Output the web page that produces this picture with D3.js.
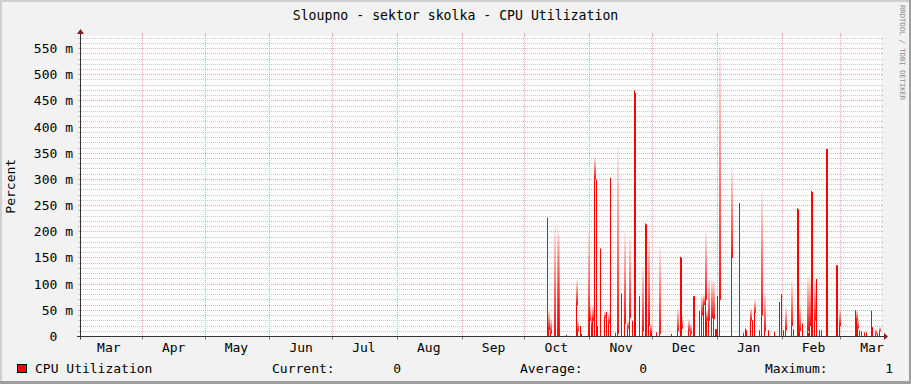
<!DOCTYPE html>
<html>
<head>
<meta charset="utf-8">
<script src="https://cdn.jsdelivr.net/npm/d3@7"></script>
<style>
html, body { margin: 0; padding: 0; background: #f2f2f2; }
svg { display: block; font-family: "DejaVu Sans Mono", monospace; }
text { white-space: pre; }
</style>
</head>
<body>
<div id="chart"></div>
<script>
(function(){
// chart texts
const chartTitle = "Sloupno - sektor skolka - CPU Utilization";
const yTitle = "Percent";
const seriesName = "CPU Utilization";
const watermark = "RRDTOOL / TOBI OETIKER";

// time range shown and month labels
const timeStart = "2014-03-02T16:20";
const timeEnd = "2015-03-20T06:45";
const monthLabels = ["Mar", "Apr", "May", "Jun", "Jul", "Aug", "Sep", "Oct", "Nov", "Dec", "Jan", "Feb", "Mar"];

// y ticks (milli percent)
const yTicks = [0, 50, 100, 150, 200, 250, 300, 350, 400, 450, 500, 550];
const yMax = 574;

// legend statistics
const statLabels = ["Current:", "Average:", "Maximum:"];
const statValues = ["0", "0", "1"];

// spikes: time, solid height and faded peak (milli percent)
const spikeDates = [
 "2014-10-11T18:00","2014-10-12T12:00","2014-10-13T00:00","2014-10-15T00:00","2014-10-16T12:00","2014-10-17T06:00",
 "2014-10-21T00:00","2014-10-25T12:00","2014-10-26T00:00","2014-10-27T12:00","2014-10-28T00:00","2014-10-31T12:00",
 "2014-11-01T00:00","2014-11-01T18:00","2014-11-02T12:00","2014-11-03T12:00","2014-11-04T06:00","2014-11-04T18:00",
 "2014-11-06T06:00","2014-11-08T06:00","2014-11-09T00:00","2014-11-09T18:00","2014-11-11T00:00","2014-11-13T12:00",
 "2014-11-14T12:00","2014-11-16T00:00","2014-11-17T18:00","2014-11-19T00:00","2014-11-20T00:00","2014-11-21T06:00",
 "2014-11-22T12:00","2014-11-23T00:00","2014-11-25T00:00","2014-11-26T00:00","2014-11-27T18:00","2014-11-28T06:00",
 "2014-11-29T00:00","2014-11-30T00:00","2014-11-30T18:00",
 "2014-12-03T00:00","2014-12-04T12:00","2014-12-10T06:00","2014-12-13T00:00","2014-12-14T06:00","2014-12-14T18:00",
 "2014-12-15T00:00","2014-12-18T06:00","2014-12-19T06:00","2014-12-20T18:00","2014-12-21T06:00","2014-12-23T06:00",
 "2014-12-24T12:00","2014-12-25T06:00","2014-12-26T06:00","2014-12-27T00:00","2014-12-28T00:00","2014-12-29T00:00",
 "2014-12-30T00:00","2014-12-31T00:00","2014-12-31T18:00",
 "2015-01-01T00:00","2015-01-02T06:00","2015-01-08T00:00","2015-01-11T18:00","2015-01-13T12:00","2015-01-14T06:00",
 "2015-01-15T00:00","2015-01-17T00:00","2015-01-18T00:00","2015-01-19T00:00","2015-01-21T00:00","2015-01-22T00:00",
 "2015-01-23T18:00","2015-01-25T12:00","2015-01-28T12:00","2015-01-30T12:00","2015-01-31T12:00",
 "2015-02-01T12:00","2015-02-02T18:00","2015-02-05T06:00","2015-02-06T12:00","2015-02-08T06:00","2015-02-08T18:00",
 "2015-02-09T06:00","2015-02-10T18:00","2015-02-13T00:00","2015-02-13T12:00","2015-02-14T06:00","2015-02-15T06:00",
 "2015-02-15T18:00","2015-02-16T12:00","2015-02-17T12:00","2015-02-19T00:00","2015-02-20T00:00","2015-02-22T06:00",
 "2015-02-22T18:00","2015-02-27T00:00","2015-02-27T12:00","2015-02-28T06:00",
 "2015-03-08T06:00","2015-03-08T18:00","2015-03-09T06:00","2015-03-10T00:00","2015-03-10T18:00","2015-03-12T12:00",
 "2015-03-13T06:00","2015-03-15T12:00","2015-03-16T06:00","2015-03-17T12:00","2015-03-18T18:00","2015-03-19T12:00"
];
const spikeSolid = [
 227, 12, 5, 0, 3, 0, 3, 60, 10, 20, 5, 10,
 30, 20, 30, 300, 300, 20, 168, 35, 47, 25, 303, 7, 5, 82, 24, 15, 35, 30, 470, 465, 77, 10, 216, 214, 20, 7, 7,
 8, 5, 5, 10, 152, 150, 15, 10, 5, 77, 77, 49, 40, 60, 70, 30, 30, 35, 33, 14, 14,
 77, 70, 150, 255, 7, 15, 12, 30, 31, 45, 12, 40, 10, 12, 9, 66, 81,
 12, 12, 20, 14, 245, 243, 10, 25, 10, 7, 20, 278, 276, 30, 110, 12, 12, 358, 358, 136, 136, 20,
 50, 30, 15, 12, 10, 8, 8, 49, 18, 5, 6, 10
];
const spikePeak = [
 227, 50, 35, 213, 210, 195, 3, 110, 30, 20, 5, 200,
 60, 40, 60, 343, 300, 20, 168, 47, 47, 45, 303, 7, 362, 82, 200, 30, 190, 30, 470, 465, 77, 133, 216, 214, 187, 25, 7,
 8, 171, 5, 54, 152, 150, 40, 34, 25, 77, 77, 49, 79, 80, 200, 50, 108, 108, 106, 14, 14,
 77, 555, 322, 255, 7, 15, 12, 55, 31, 71, 12, 280, 83, 12, 9, 66, 81,
 12, 55, 106, 14, 245, 243, 60, 25, 114, 7, 113, 278, 276, 108, 110, 12, 12, 358, 358, 136, 136, 52,
 50, 50, 35, 12, 10, 8, 8, 49, 18, 14, 6, 18
];

const width = 911, height = 384;
const plotLeft = 81, plotRight = 881, plotTop = 36, plotBottom = 336.5;
const parse = d3.timeParse("%Y-%m-%dT%H:%M");
const t0 = parse(timeStart), t1 = parse(timeEnd);

const x = d3.scaleTime().domain([t0, t1]).range([plotLeft, plotRight]);
const y = d3.scaleLinear().domain([0, yMax]).range([plotBottom, plotTop]);

const svg = d3.select("#chart").append("svg")
 .attr("width", width)
 .attr("height", height);

// background and 3d frame
svg.append("rect").attr("width", width).attr("height", height).attr("fill", "#f2f2f2");
svg.append("rect").attr("x", 0).attr("y", 0).attr("width", width).attr("height", 2).attr("fill", "#cfcfcf");
svg.append("rect").attr("x", 0).attr("y", 0).attr("width", 2).attr("height", height).attr("fill", "#cfcfcf");
svg.append("rect").attr("x", 0).attr("y", height - 3).attr("width", width).attr("height", 3).attr("fill", "#9e9e9e");
svg.append("rect").attr("x", width - 2).attr("y", 0).attr("width", 2).attr("height", height).attr("fill", "#9e9e9e");

// canvas
svg.append("rect")
 .attr("x", plotLeft).attr("y", plotTop)
 .attr("width", plotRight - plotLeft).attr("height", plotBottom - plotTop + 0.5)
 .attr("fill", "#ffffff");

const minorCol = "#c8c8c8", majorCol = "#f0a8a8";

// horizontal grid every 10 m
const grid = svg.append("g");
const hLines = d3.range(1, 58).map(k => k * 10);
hLines.forEach(v => {
 const yy = Math.floor(y(v)) + 0.5;
 const major = v % 50 === 0;
 const col = major ? majorCol : minorCol;
 grid.append("line").attr("x1", plotLeft).attr("x2", plotRight).attr("y1", yy).attr("y2", yy)
 .attr("stroke", col).attr("stroke-dasharray", "1,1");
 grid.append("line").attr("x1", plotLeft - 3).attr("x2", plotLeft).attr("y1", yy).attr("y2", yy).attr("stroke", col);
 grid.append("line").attr("x1", plotRight).attr("x2", plotRight + 2).attr("y1", yy).attr("y2", yy).attr("stroke", col);
});

// vertical month grid
const months = d3.timeMonth.range(d3.timeMonth.ceil(t0), t1);
months.forEach(m => {
 const xx = Math.floor(x(m)) + 0.5;
 grid.append("line").attr("x1", xx).attr("x2", xx).attr("y1", plotTop).attr("y2", plotBottom)
 .attr("stroke", majorCol).attr("stroke-dasharray", "1,1");
 grid.append("line").attr("x1", xx).attr("x2", xx).attr("y1", plotTop - 3).attr("y2", plotTop).attr("stroke", majorCol);
 grid.append("line").attr("x1", xx).attr("x2", xx).attr("y1", plotBottom).attr("y2", plotBottom + 3).attr("stroke", "#777");
});

// gradient for the faded tips
const defs = svg.append("defs");
const grad = defs.append("linearGradient").attr("id", "fade")
 .attr("x1", 0).attr("y1", 1).attr("x2", 0).attr("y2", 0);
grad.append("stop").attr("offset", 0).attr("stop-color", "#ff0000").attr("stop-opacity", 0.95);
grad.append("stop").attr("offset", 0.55).attr("stop-color", "#ff0000").attr("stop-opacity", 0.45);
grad.append("stop").attr("offset", 1).attr("stop-color", "#ff0000").attr("stop-opacity", 0.06);

const spikes = spikeDates.map((d, i) => ({ t: parse(d), solid: spikeSolid[i], peak: spikePeak[i] }));

const area = svg.append("g");
area.selectAll("rect.fade")
 .data(spikes.filter(d => d.peak > d.solid))
 .enter().append("rect")
 .attr("class", "fade")
 .attr("x", d => Math.floor(x(d.t)))
 .attr("width", 2)
 .attr("y", d => y(d.peak))
 .attr("height", d => y(d.solid) - y(d.peak))
 .attr("fill", "url(#fade)");

area.selectAll("rect.solid")
 .data(spikes.filter(d => d.solid > 0))
 .enter().append("rect")
 .attr("class", "solid")
 .attr("x", d => Math.floor(x(d.t)))
 .attr("width", d => Math.max(1, Math.round(x(d3.timeHour.offset(d.t, 12)) - x(d.t))))
 .attr("y", d => y(d.solid))
 .attr("height", d => y(0) - y(d.solid))
 .attr("fill", "#ff0000");

// axes
const axisCol = "#333333", arrowCol = "#801f1f";
svg.append("line").attr("x1", plotLeft - 4).attr("x2", plotRight + 3).attr("y1", plotBottom).attr("y2", plotBottom).attr("stroke", axisCol);
svg.append("line").attr("x1", plotLeft - 0.5).attr("x2", plotLeft - 0.5).attr("y1", plotBottom + 3).attr("y2", plotTop - 3).attr("stroke", axisCol);
svg.append("path").attr("d", `M${plotRight + 3},${plotBottom - 3.5}L${plotRight + 7},${plotBottom}L${plotRight + 3},${plotBottom + 3.5}Z`).attr("fill", arrowCol);
svg.append("path").attr("d", `M${plotLeft - 4},${plotTop - 2}L${plotLeft - 0.5},${plotTop - 7}L${plotLeft + 3},${plotTop - 2}Z`).attr("fill", arrowCol);

// y tick labels
svg.append("g").selectAll("text")
 .data(yTicks)
 .enter().append("text")
 .attr("x", 73)
 .attr("y", d => Math.floor(y(d)) + 5)
 .attr("text-anchor", "end")
 .attr("font-size", 13)
 .attr("fill", "#000")
 .text(d => d === 0 ? "0  " : d + " m");

// month labels at mid month
const labelMonths = d3.timeMonth.range(d3.timeMonth.floor(t0), t1);
svg.append("g").selectAll("text")
 .data(labelMonths)
 .enter().append("text")
 .attr("x", d => x(d3.timeDay.offset(d, 15)))
 .attr("y", 352)
 .attr("text-anchor", "middle")
 .attr("font-size", 13)
 .attr("fill", "#000")
 .text((d, i) => monthLabels[i]);

// title
svg.append("text")
 .attr("x", width / 2).attr("y", 19.5)
 .attr("text-anchor", "middle")
 .attr("font-size", 13.2)
 .attr("fill", "#000")
 .text(chartTitle);

// y title
svg.append("text")
 .attr("transform", `translate(15,${(plotTop + plotBottom) / 2}) rotate(-90)`)
 .attr("text-anchor", "middle")
 .attr("font-size", 13)
 .attr("fill", "#000")
 .text(yTitle);

// watermark
svg.append("text")
 .attr("transform", "translate(900,5) rotate(90)")
 .attr("font-size", 7.2)
 .attr("fill", "#8c8c8c")
 .text(watermark);

// legend
svg.append("rect").attr("x", 17.5).attr("y", 364.5).attr("width", 9).attr("height", 8)
 .attr("fill", "#ff0000").attr("stroke", "#000");
svg.append("text").attr("x", 35).attr("y", 373).attr("font-size", 13).text(seriesName);
const statX = [272, 520, 765];
const valRight = [401, 647, 893];
statLabels.forEach((s, i) => {
 svg.append("text").attr("x", statX[i]).attr("y", 373).attr("font-size", 13).text(s);
 svg.append("text").attr("x", valRight[i]).attr("y", 373).attr("font-size", 13)
 .attr("text-anchor", "end").text(statValues[i]);
});
})();
</script>
</body>
</html>
